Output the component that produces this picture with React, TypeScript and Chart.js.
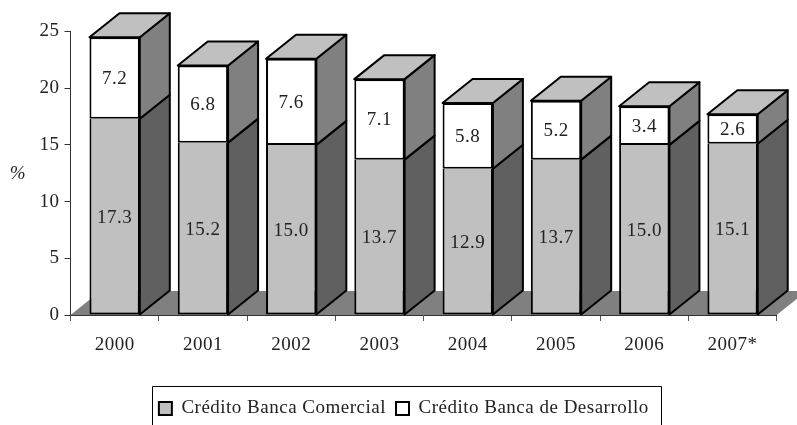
import React, { useEffect, useRef } from "react";
import { Chart, registerables } from "chart.js";

Chart.register(...registerables);

const categories = ["2000", "2001", "2002", "2003", "2004", "2005", "2006", "2007*"];
const comercial = [17.3, 15.2, 15.0, 13.7, 12.9, 13.7, 15.0, 15.1];
const desarrollo = [7.2, 6.8, 7.6, 7.1, 5.8, 5.2, 3.4, 2.6];
const yTicks = [0, 5, 10, 15, 20, 25];
const FONT = "'Liberation Serif', serif";
const TEXT = "#222222";
const DX = 30;
const DY = -24;

function poly(ctx: CanvasRenderingContext2D, pts: number[][], fill: string, stroke: string | null, lw = 2) {
  ctx.beginPath();
  pts.forEach((p, i) => (i ? ctx.lineTo(p[0], p[1]) : ctx.moveTo(p[0], p[1])));
  ctx.closePath();
  ctx.fillStyle = fill;
  ctx.fill();
  if (stroke) {
    ctx.strokeStyle = stroke;
    ctx.lineWidth = lw;
    ctx.lineJoin = "round";
    ctx.stroke();
  }
}

const bars3d = {
  id: "bars3d",
  afterLayout(chart: any) {
    if (chart.legend) {
      chart.legend.left += 3;
      chart.legend.right += 3;
      chart.legend.top += 3;
      chart.legend.bottom += 3;
    }
  },
  beforeDraw(chart: any) {
    chart.ctx.letterSpacing = "0.5px";
  },
  beforeDatasetsDraw(chart: any) {
    const { ctx, scales } = chart;
    const x0 = scales.x.left;
    const x1 = scales.x.right;
    const y0 = scales.y.getPixelForValue(0);
    ctx.save();
    poly(ctx, [[x0, y0], [x0 + DX, y0 + DY], [x1 + DX, y0 + DY], [x1, y0]], "#808080", null);
    const sideColors = ["#606060", "#808080"];
    chart.data.datasets.forEach((_: any, d: number) => {
      chart.getDatasetMeta(d).data.forEach((el: any) => {
        const { x, y, base, width } = el.getProps(["x", "y", "base", "width"], true);
        const r = x + width / 2;
        const l = x - width / 2;
        poly(ctx, [[r, base], [r + DX, base + DY], [r + DX, y + DY], [r, y]], sideColors[d], "#000000");
        if (d === chart.data.datasets.length - 1) {
          poly(ctx, [[l, y], [l + DX, y + DY], [r + DX, y + DY], [r, y]], "#c0c0c0", "#000000");
        }
      });
    });
    ctx.restore();
  },
  afterDatasetsDraw(chart: any) {
    const { ctx } = chart;
    ctx.save();
    ctx.font = `19px ${FONT}`;
    ctx.fillStyle = TEXT;
    ctx.textAlign = "center";
    ctx.textBaseline = "middle";
    chart.data.datasets.forEach((ds: any, d: number) => {
      chart.getDatasetMeta(d).data.forEach((el: any, i: number) => {
        const { x, y, base } = el.getProps(["x", "y", "base"], true);
        ctx.fillText(ds.data[i].toFixed(1), x, (y + base) / 2 + 1);
      });
    });
    ctx.restore();
  },
  afterDraw(chart: any) {
    const { ctx } = chart;
    ctx.save();
    ctx.font = `italic 19px ${FONT}`;
    ctx.fillStyle = TEXT;
    ctx.textAlign = "center";
    ctx.textBaseline = "middle";
    ctx.fillText(chart.options.scales.y.title.text, 18, 174);
    ctx.strokeStyle = "#000000";
    ctx.lineWidth = 1;
    ctx.beginPath();
    ctx.moveTo(152.5, 425);
    ctx.lineTo(152.5, 386.5);
    ctx.lineTo(661.5, 386.5);
    ctx.lineTo(661.5, 425);
    ctx.stroke();
    ctx.restore();
  },
};

export default function App() {
  const ref = useRef<HTMLCanvasElement>(null);
  useEffect(() => {
    const chart = new Chart(ref.current as HTMLCanvasElement, {
      type: "bar",
      data: {
        labels: categories,
        datasets: [
          {
            label: "Crédito Banca Comercial",
            data: comercial,
            backgroundColor: "#c0c0c0",
            borderColor: "#000000",
            borderWidth: { top: 0, left: 2, right: 2, bottom: 2 },
            borderSkipped: false,
          },
          {
            label: "Crédito Banca de Desarrollo",
            data: desarrollo,
            backgroundColor: "#ffffff",
            borderColor: "#000000",
            borderWidth: 2,
            borderSkipped: false,
          },
        ],
      },
      options: {
        responsive: false,
        animation: false,
        devicePixelRatio: 1,
        layout: { padding: { left: 0, right: 20.3, top: 31.5, bottom: 0 } },
        datasets: { bar: { barPercentage: 0.57, categoryPercentage: 1 } },
        scales: {
          x: {
            stacked: true,
            afterFit: (s: any) => {
              s.height = 71;
            },
            grid: { drawOnChartArea: false, color: "#555555", tickLength: 6 },
            border: { color: "#333333" },
            ticks: { color: TEXT, padding: 13, maxRotation: 0, font: { family: FONT, size: 19 } },
          },
          y: {
            stacked: true,
            min: 0,
            max: 25,
            afterBuildTicks: (s: any) => {
              s.ticks = yTicks.map((value) => ({ value }));
            },
            afterFit: (s: any) => {
              s.width = 70.5;
            },
            title: { display: false, text: "%" },
            grid: { drawOnChartArea: false, color: "#333333", tickLength: 6 },
            border: { color: "#333333" },
            ticks: { color: TEXT, padding: 5, font: { family: FONT, size: 19 } },
          },
        },
        plugins: {
          legend: {
            position: "bottom",
            labels: {
              color: TEXT,
              boxWidth: 13,
              boxHeight: 13,
              padding: 10,
              font: { family: FONT, size: 19 },
              generateLabels: (c: any) =>
                c.data.datasets.map((ds: any, i: number) => ({
                  text: ds.label,
                  fillStyle: ds.backgroundColor,
                  strokeStyle: "#000000",
                  lineWidth: 2,
                  datasetIndex: i,
                  fontColor: TEXT,
                })),
            },
          },
          tooltip: { enabled: false },
        },
      },
      plugins: [bars3d],
    } as any);
    return () => chart.destroy();
  }, []);
  return (
    <div style={{ position: "absolute", left: 0, top: 0, width: 797, height: 425, background: "#fff" }}>
      <canvas ref={ref} width={797} height={425} style={{ display: "block" }} />
    </div>
  );
}
